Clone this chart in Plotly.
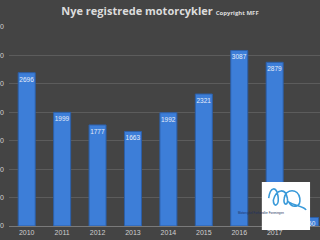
import plotly.graph_objects as go

categories = ["2010", "2011", "2012", "2013", "2014", "2015", "2016", "2017", "2018 jan-feb"]
values = [2696, 1999, 1777, 1663, 1992, 2321, 3087, 2879, 150]
labels = ["2696", "1999", "1777", "1663", "1992", "2321", "3087", "2879", "150"]
y_ticks = [0, 500, 1000, 1500, 2000, 2500, 3000, 3500]

fig = go.Figure()
fig.add_trace(go.Bar(
    x=list(range(len(categories))), y=values,
    text=labels, textposition="inside", insidetextanchor="end", textangle=0,
    constraintext="none",
    textfont=dict(size=6.5, color="#e4ecf8", family="Liberation Sans"),
    marker=dict(color="#3d7ed8", line=dict(color="#2c5fa8", width=1)),
    width=0.48,
))

fig.update_layout(
    width=320, height=240,
    margin=dict(l=9, r=0, t=27, b=14),
    paper_bgcolor="#444444", plot_bgcolor="rgba(0,0,0,0)",
    showlegend=False,
    title=dict(
        text="<b>Nye registrede motorcykler</b> <span style='font-size:6px'><b>Copyright MFF</b></span>",
        x=0.5, xanchor="center", y=0.955, yanchor="middle",
        font=dict(size=11, color="#dcdcdc", family="Open Sans"),
    ),
    xaxis=dict(
        tickmode="array", tickvals=list(range(len(categories))), ticktext=categories,
        range=[-0.5, 8.28], showgrid=False, zeroline=False,
        showline=True, linecolor="#7a7a7a", linewidth=1,
        tickfont=dict(size=7, color="#cfcfcf", family="Liberation Sans"),
        ticks="", automargin=False,
    ),
    yaxis=dict(
        range=[0, 3500], tickvals=y_ticks, showgrid=True, gridcolor="#5c5c5c", gridwidth=1,
        zeroline=False, tickfont=dict(size=7, color="#cfcfcf", family="Liberation Sans"),
        automargin=False, ticks="", ticklabelstandoff=4,
    ),
    bargap=0.5,
)

# logo box
fig.add_shape(type="rect", xref="paper", yref="paper", x0=0.813, x1=0.968, y0=-0.02, y1=0.221,
              fillcolor="white", line=dict(width=0), layer="above")
fig.add_shape(type="path", xref="paper", yref="paper",
              path="M 0.835,0.14 C 0.84,0.20 0.86,0.20 0.865,0.15 C 0.87,0.10 0.85,0.09 0.85,0.13 "
                   "C 0.86,0.19 0.89,0.19 0.895,0.14 C 0.90,0.10 0.88,0.10 0.885,0.14 "
                   "C 0.89,0.19 0.93,0.19 0.935,0.14 C 0.94,0.09 0.91,0.09 0.90,0.12 "
                   "C 0.92,0.10 0.95,0.10 0.955,0.08",
              line=dict(color="#3a9ad9", width=1.6), layer="above")
fig.add_annotation(xref="paper", yref="paper", x=0.89, y=0.045, text="Motorcykel Forhandler Foreningen",
                   showarrow=False, font=dict(size=3, color="#203060", family="Liberation Sans"))

fig.write_html("out.html")
